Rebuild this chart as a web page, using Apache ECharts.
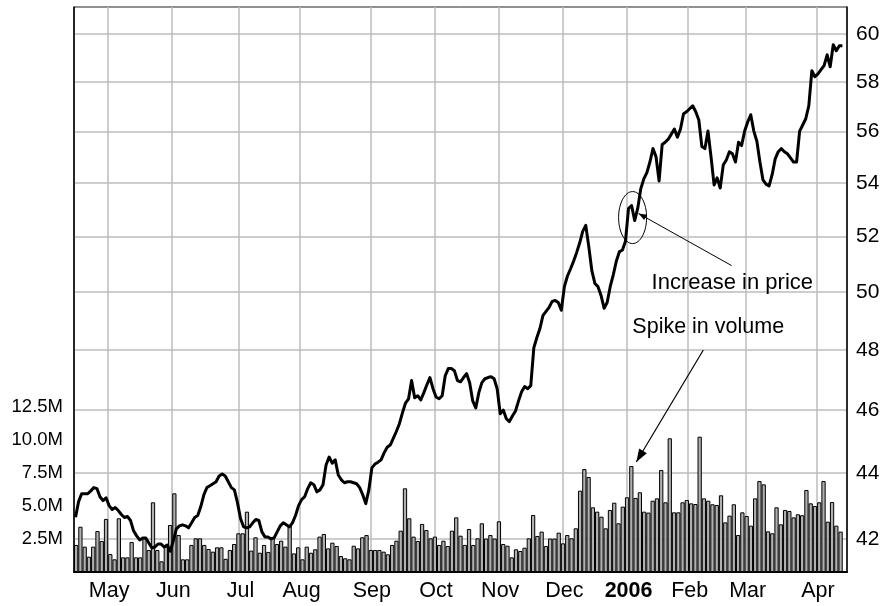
<!DOCTYPE html>
<html>
<head>
<meta charset="utf-8">
<script src="https://cdn.jsdelivr.net/npm/echarts@6.0.0/dist/echarts.min.js"></script>
<style>
  html, body { margin: 0; padding: 0; background: #fff; }
  #chart { width: 885px; height: 606px; }
</style>
</head>
<body>
<div id="chart"></div>
<script>
// trading days, 15 Apr 2005 .. 17 Apr 2006 (exchange holidays skipped)
const holidays = ['2005-05-30', '2005-07-04', '2005-09-05', '2005-11-24', '2005-12-26',
  '2006-01-02', '2006-01-16', '2006-02-20', '2006-04-14']
const dates = []
for (let t = Date.UTC(2005, 3, 15); dates.length < 253; t += 86400000) {
  const d = new Date(t)
  const s = d.toISOString().slice(0, 10)
  if (d.getUTCDay() === 0 || d.getUTCDay() === 6 || holidays.includes(s)) continue
  dates.push(s)
}

// daily price (close)
const price = [
  42.65, 43.12, 43.36, 43.36, 43.36, 43.45, 43.55, 43.52, 43.27, 43.15,
  43.24, 43.00, 42.88, 42.94, 42.85, 42.73, 42.64, 42.67, 42.55, 42.24,
  42.09, 41.97, 42.03, 42.03, 41.88, 41.73, 41.76, 41.85, 41.85, 41.76,
  41.82, 41.64, 41.94, 42.30, 42.39, 42.42, 42.39, 42.33, 42.48, 42.64,
  42.70, 42.97, 43.33, 43.55, 43.61, 43.67, 43.73, 43.91, 43.97, 43.91,
  43.73, 43.55, 43.48, 43.09, 42.61, 42.36, 42.33, 42.36, 42.48, 42.58,
  42.55, 42.21, 42.06, 42.06, 42.00, 42.03, 42.21, 42.39, 42.48, 42.42,
  42.36, 42.48, 42.70, 43.00, 43.18, 43.27, 43.52, 43.70, 43.64, 43.42,
  43.48, 43.64, 44.25, 44.50, 44.31, 44.41, 43.94, 43.79, 43.70, 43.73,
  43.73, 43.70, 43.67, 43.55, 43.33, 43.06, 43.48, 44.16, 44.28, 44.34,
  44.41, 44.63, 44.81, 44.88, 45.09, 45.31, 45.56, 45.91, 46.23, 46.37,
  46.97, 46.40, 46.47, 46.33, 46.57, 46.83, 47.07, 46.70, 46.43, 46.37,
  46.47, 47.13, 47.37, 47.37, 47.30, 46.97, 46.93, 47.07, 47.20, 46.90,
  46.30, 46.07, 46.57, 46.90, 47.03, 47.07, 47.10, 47.03, 46.70, 45.88,
  46.00, 45.72, 45.63, 45.81, 45.97, 46.30, 46.60, 46.77, 46.70, 46.80,
  48.07, 48.42, 48.73, 49.18, 49.32, 49.46, 49.67, 49.70, 49.63, 49.36,
  50.19, 50.57, 50.82, 51.10, 51.41, 51.76, 52.19, 52.41, 51.62, 50.75,
  50.30, 50.19, 49.88, 49.43, 49.63, 50.19, 50.61, 51.10, 51.44, 51.51,
  51.83, 53.04, 53.15, 52.59, 53.04, 53.78, 54.16, 54.40, 54.81, 55.33,
  55.01, 54.08, 55.49, 55.58, 55.70, 55.90, 56.10, 55.78, 56.10, 56.71,
  56.79, 56.91, 57.03, 56.79, 56.46, 55.41, 55.33, 56.02, 55.01, 53.93,
  54.20, 53.81, 54.69, 54.89, 55.21, 55.13, 54.81, 55.58, 55.45, 56.02,
  56.38, 56.67, 56.02, 55.62, 54.81, 54.12, 53.96, 53.89, 54.32, 54.93,
  55.21, 55.33, 55.21, 55.13, 54.97, 54.81, 54.81, 56.02, 56.26, 56.51,
  57.03, 58.46, 58.21, 58.33, 58.50, 58.67, 59.12, 58.62, 59.54, 59.29,
  59.50, 59.50
]

// volume bars (millions of shares), as drawn left to right
const volume = [
  2.05, 3.43, 1.92, 1.16, 1.92, 3.10, 2.35, 4.02, 1.36, 0.96,
  4.07, 1.11, 1.11, 2.27, 1.11, 1.11, 2.55, 1.67, 5.28, 1.67,
  0.81, 1.92, 3.56, 5.96, 2.80, 0.96, 0.96, 2.05, 2.55, 2.55,
  2.05, 1.74, 1.54, 1.87, 1.87, 1.00, 1.67, 2.12, 2.93, 2.93,
  4.57, 1.62, 2.63, 1.46, 2.05, 1.52, 2.63, 2.12, 2.37, 1.92,
  3.56, 1.41, 1.87, 0.96, 1.92, 1.46, 1.72, 2.68, 2.88, 1.79,
  2.22, 1.97, 1.21, 1.04, 0.96, 1.99, 1.79, 2.63, 2.80, 1.67,
  1.67, 1.67, 1.54, 1.34, 2.05, 2.37, 3.13, 6.34, 4.07, 2.68,
  2.35, 3.64, 3.18, 2.55, 2.68, 2.05, 2.37, 1.97, 3.13, 4.14,
  2.75, 2.05, 3.26, 2.05, 2.55, 3.69, 2.53, 2.80, 2.53, 3.84,
  2.12, 1.99, 1.11, 1.72, 1.59, 1.84, 2.55, 4.32, 2.73, 3.06,
  1.97, 2.53, 2.53, 2.98, 2.17, 2.80, 2.55, 3.31, 6.16, 7.80,
  7.20, 4.90, 4.57, 4.19, 3.31, 4.70, 5.25, 3.69, 4.95, 5.66,
  8.03, 5.61, 6.04, 4.57, 4.50, 5.40, 5.58, 7.73, 5.28, 10.13,
  4.52, 4.52, 5.28, 5.45, 5.20, 5.15, 10.25, 5.58, 5.40, 5.13,
  5.08, 5.81, 3.76, 4.27, 5.13, 2.80, 4.52, 4.24, 3.51, 5.58,
  6.89, 6.64, 3.08, 2.93, 4.90, 3.61, 4.70, 4.62, 4.14, 4.37,
  4.30, 6.21, 5.20, 5.00, 5.28, 6.89, 3.81, 5.30, 3.51, 3.06
]
const volumeSlots = volume.map((v, i) => String(i)).concat([''])

const priceTicks = [42, 44, 46, 48, 50, 52, 54, 56, 58, 60]
const monthNames = ['Jan', 'Feb', 'Mar', 'Apr', 'May', 'Jun', 'Jul', 'Aug', 'Sep', 'Oct', 'Nov', 'Dec']

const FONT = "'Liberation Sans', Arial, sans-serif"
const GRID_COLOR = '#bdbdbd'

function monthStart(index) {
  return index > 0 && dates[index].slice(5, 7) !== dates[index - 1].slice(5, 7)
}

const chart = echarts.init(document.getElementById('chart'), null, { renderer: 'canvas' })

const option = {
  animation: false,
  backgroundColor: '#fff',
  grid: {
    left: 74, right: 38, top: 7, bottom: 34,
    show: true, borderColor: '#222', borderWidth: 1,
    outerBoundsMode: 'none'
  },
  xAxis: [
    {
      type: 'category',
      data: dates,
      boundaryGap: true,
      axisLine: { show: true, lineStyle: { color: '#000', width: 2 } },
      axisTick: { show: false },
      axisLabel: {
        interval: (i) => monthStart(i),
        margin: 8,
        color: '#000',
        fontFamily: FONT,
        fontSize: 21.5,
        formatter: (v) => {
          const m = parseInt(v.slice(5, 7), 10)
          return m === 1 ? '{b|' + v.slice(0, 4) + '}' : monthNames[m - 1]
        },
        rich: { b: { fontWeight: 'bold', fontFamily: FONT, fontSize: 21.5, color: '#000' } }
      },
      splitLine: {
        show: true,
        interval: (i) => monthStart(i),
        lineStyle: { color: GRID_COLOR, width: 1.5 }
      }
    },
    {
      type: 'category',
      data: volumeSlots,
      boundaryGap: true,
      show: false
    }
  ],
  yAxis: [
    {
      type: 'log',
      position: 'right',
      min: 41.03,
      max: 61.15,
      axisLine: { show: true, lineStyle: { color: '#000', width: 1.5 } },
      axisTick: { show: false, customValues: priceTicks },
      axisLabel: {
        customValues: priceTicks,
        margin: 9,
        color: '#000',
        fontFamily: FONT,
        fontSize: 21
      },
      splitLine: { show: true, lineStyle: { color: GRID_COLOR, width: 1.5 } }
    },
    {
      type: 'value',
      position: 'left',
      min: 0,
      max: 42.8,
      interval: 2.5,
      axisLine: { show: true, lineStyle: { color: '#000', width: 1.5 } },
      axisTick: { show: false },
      splitLine: { show: false },
      axisLabel: {
        margin: 11,
        color: '#000',
        fontFamily: FONT,
        fontSize: 18.5,
        formatter: (v) => (v > 0 && v <= 12.5 ? v.toFixed(1) + 'M' : '')
      }
    }
  ],
  series: [
    {
      name: 'Volume',
      type: 'bar',
      xAxisIndex: 1,
      yAxisIndex: 1,
      data: volume,
      barCategoryGap: '0%',
      itemStyle: { color: '#b0b0b0', borderColor: '#000', borderWidth: 1 },
      z: 2
    },
    {
      name: 'Price',
      type: 'line',
      xAxisIndex: 0,
      yAxisIndex: 0,
      data: price,
      showSymbol: false,
      lineStyle: { color: '#000', width: 3, join: 'round' },
      z: 3
    }
  ]
}

chart.setOption(option)

// annotations, anchored to the data points they describe
function arrowHead(x1, y1, x2, y2, len, half) {
  const dx = x2 - x1, dy = y2 - y1
  const l = Math.sqrt(dx * dx + dy * dy)
  const ux = dx / l, uy = dy / l
  return [[x2, y2],
    [x2 - ux * len + uy * half, y2 - uy * len - ux * half],
    [x2 - ux * len - uy * half, y2 - uy * len + ux * half]]
}

const ell = chart.convertToPixel({ xAxisIndex: 0, yAxisIndex: 0 }, [182, 52.7])
const spike = chart.convertToPixel({ xAxisIndex: 1, yAxisIndex: 1 }, [130, volume[130]])

const lineStart = [ell[0] + 7, ell[1] - 4]
const lineEnd = [ell[0] + 100, ell[1] + 48]
const arrowStart = [spike[0] + 72, spike[1] - 116]
const arrowEnd = [spike[0] + 5, spike[1] - 4]

chart.setOption({
  graphic: [
    {
      type: 'ellipse', z: 10,
      shape: { cx: ell[0] + 1, cy: ell[1], rx: 14, ry: 26 },
      style: { fill: 'none', stroke: '#000', lineWidth: 1 }
    },
    {
      type: 'line', z: 10,
      shape: { x1: lineStart[0], y1: lineStart[1], x2: lineEnd[0], y2: lineEnd[1] },
      style: { stroke: '#000', lineWidth: 1 }
    },
    {
      type: 'polygon', z: 10,
      shape: { points: arrowHead(lineEnd[0], lineEnd[1], lineStart[0], lineStart[1], 8, 3) },
      style: { fill: '#000' }
    },
    {
      type: 'text', z: 10,
      x: ell[0] + 20, y: ell[1] + 65,
      style: { text: 'Increase in price', font: '22px ' + FONT, fill: '#000', verticalAlign: 'middle' }
    },
    {
      type: 'text', z: 10,
      x: spike[0] + 1, y: spike[1] - 139,
      style: { text: 'Spike in volume', font: '21.5px ' + FONT, fill: '#000', verticalAlign: 'middle' }
    },
    {
      type: 'line', z: 10,
      shape: { x1: arrowStart[0], y1: arrowStart[1], x2: arrowEnd[0], y2: arrowEnd[1] },
      style: { stroke: '#000', lineWidth: 1.2 }
    },
    {
      type: 'polygon', z: 10,
      shape: { points: arrowHead(arrowStart[0], arrowStart[1], arrowEnd[0], arrowEnd[1], 13, 4.5) },
      style: { fill: '#000' }
    }
  ]
})

window.addEventListener('resize', () => chart.resize())
</script>
</body>
</html>
